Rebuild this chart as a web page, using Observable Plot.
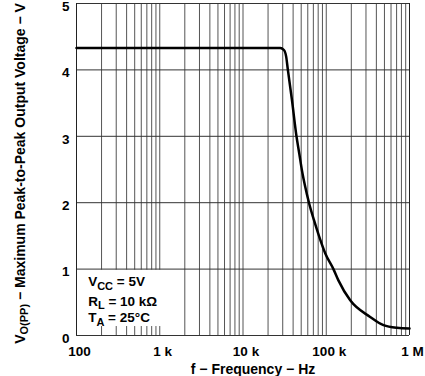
<!DOCTYPE html>
<html>
<head>
<meta charset="utf-8">
<script src="https://cdn.jsdelivr.net/npm/d3@7"></script>
<script src="https://cdn.jsdelivr.net/npm/@observablehq/plot@0.6"></script>
<style>
  html, body { margin: 0; padding: 0; background: #fff; }
  #chart { width: 425px; height: 376px; overflow: hidden; }
</style>
</head>
<body>
<div id="chart"></div>
<script>
// Frequency (Hz) and maximum peak-to-peak output voltage (V)
const freqs = [100, 1000, 10000, 28000, 31000, 33000, 34600, 38700, 43900, 47400, 51000, 55900, 62000, 71100, 82300, 97100, 122000, 140000, 194000, 337000, 487000, 706000, 1000000];
const vopp  = [4.33, 4.33, 4.33, 4.33, 4.30, 4.20, 4.00, 3.55, 3.00, 2.74, 2.49, 2.24, 2.00, 1.74, 1.49, 1.24, 1.00, 0.83, 0.53, 0.28, 0.155, 0.115, 0.105];

const xTicks = [100, 1000, 10000, 100000, 1000000];
const xTickLabels = ["100", "1 k", "10 k", "100 k", "1 M"];
const yTicks = [0, 1, 2, 3, 4, 5];
const multipliers = [1, 2, 3, 4, 5, 6, 7, 8, 9];

const xTitle = "f − Frequency − Hz";
const yTitle = "V_{O(PP)} − Maximum Peak-to-Peak Output Voltage − V";
const notes = ["V_{CC} = 5V", "R_{L} = 10 kΩ", "T_{A} = 25°C"];
const noteX = [138, 138, 138];
const noteY = [0.74, 0.45, 0.2];
const noteBoxX = [100, 1150];
const noteBoxY = [0.12, 1];

const curve = freqs.map((f, i) => ({f, v: vopp[i]}));
const gridX = [];
for (const d of [100, 1000, 10000, 100000]) for (const m of multipliers) gridX.push(d * m);
gridX.push(1000000);

const family = "'Liberation Sans', Arial, sans-serif";
const font = {fontFamily: family, fontSize: 13.5, fontWeight: "bold", fill: "#000"};
const titleFont = {fontFamily: family, fontSize: 14, fontWeight: "bold", fill: "#000"};

const plot = Plot.plot({
  width: 425,
  height: 376,
  marginLeft: 76,
  marginRight: 16,
  marginTop: 3,
  marginBottom: 41,
  style: {fontFamily: family, fontSize: "13.5px", fontWeight: "bold", background: "#fff", color: "#000"},
  x: {type: "log", domain: [100, 1000000], axis: null},
  y: {domain: [0, 5], axis: null},
  marks: [
    Plot.ruleX(gridX, {stroke: "#555", strokeWidth: 1}),
    Plot.rect([0], {x1: () => noteBoxX[0], x2: () => noteBoxX[1], y1: () => noteBoxY[0], y2: () => noteBoxY[1], fill: "#fff", inset: 1}),
    Plot.ruleY(yTicks, {stroke: "#333", strokeWidth: 1}),
    Plot.ruleX([100, 1000000], {stroke: "#222", strokeWidth: 1}),
    Plot.line(curve, {x: "f", y: "v", stroke: "#000", strokeWidth: 2.5, curve: "monotone-x"}),
    Plot.text(notes, {x: (d, i) => noteX[i], y: (d, i) => noteY[i], text: d => d, textAnchor: "start", lineAnchor: "bottom", ...font}),
    Plot.text(xTicks, {x: d => d, text: (d, i) => xTickLabels[i], frameAnchor: "bottom", lineAnchor: "top", dy: 11, dx: 3, ...font}),
    Plot.text(yTicks, {y: d => d, text: d => String(d), frameAnchor: "left", textAnchor: "end", dx: -7, dy: 3, ...font}),
    Plot.text([xTitle], {frameAnchor: "bottom", lineAnchor: "top", textAnchor: "middle", dy: 28.5, dx: 10, ...titleFont}),
    Plot.text([yTitle], {frameAnchor: "left", rotate: -90, textAnchor: "middle", lineAnchor: "middle", dx: -56, dy: 4, ...titleFont})
  ]
});

// Turn "_{...}" markers into real subscript tspans
plot.querySelectorAll("text").forEach(t => {
  const s = t.textContent;
  if (!s.includes("_{")) return;
  t.textContent = "";
  const ns = "http://www.w3.org/2000/svg";
  const re = /_\{([^}]*)\}/g;
  let last = 0, m, shift = 0;
  const add = (str, sub) => {
    if (!str) return;
    const ts = document.createElementNS(ns, "tspan");
    const target = sub ? 3.5 : 0;
    if (target !== shift) ts.setAttribute("dy", target - shift);
    shift = target;
    if (sub) ts.setAttribute("font-size", "11");
    ts.textContent = str;
    t.appendChild(ts);
  };
  while ((m = re.exec(s))) {
    add(s.slice(last, m.index), false);
    add(m[1], true);
    last = re.lastIndex;
  }
  add(s.slice(last), false);
});

document.getElementById("chart").appendChild(plot);
</script>
</body>
</html>
